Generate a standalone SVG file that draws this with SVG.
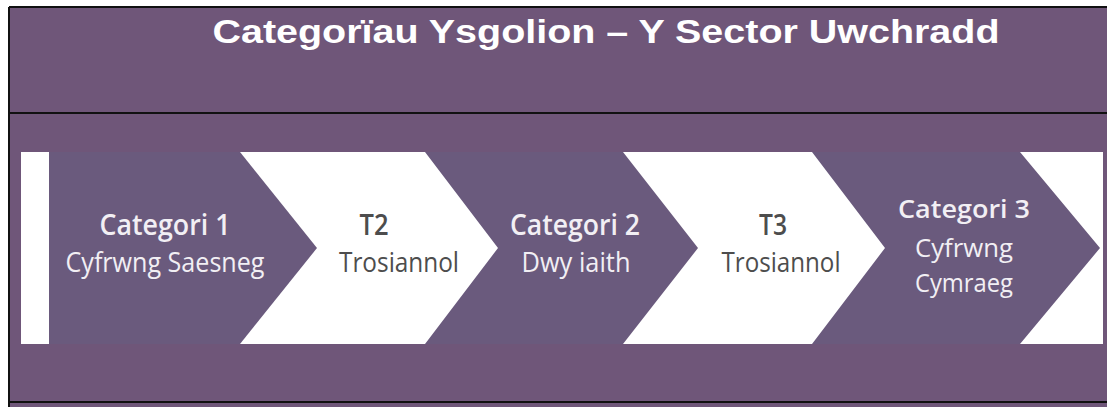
<svg xmlns="http://www.w3.org/2000/svg" width="1107" height="407" viewBox="0 0 1107 407">
<style>
.bg{fill:#6f5679}
.ln{stroke:#111;stroke-width:2;fill:none}
.chev{fill:#6a5a7d}
.wt{fill:#ffffff}
.title{font-family:"Liberation Sans",Arial,sans-serif;font-weight:bold;font-size:33px;fill:#ffffff}
.h{font-family:"Open Sans","Noto Sans",sans-serif;font-weight:600;font-size:28px;fill:#f2eff4;text-anchor:middle}
.s{font-family:"Open Sans","Noto Sans",sans-serif;font-size:27px;fill:#f2eff4;text-anchor:middle}
.c3{font-size:26px}
.dk{fill:#4d4d4d}
</style>
<rect x="0" y="0" width="1107" height="407" fill="#ffffff"/>
<rect class="bg" x="9" y="7" width="1098" height="400"/>
<g id="frame">
<line class="ln" x1="9" y1="7" x2="1107" y2="7"/>
<line class="ln" x1="9" y1="7" x2="9" y2="407"/>
<line class="ln" x1="9" y1="113" x2="1107" y2="113"/>
<line class="ln" x1="9" y1="402" x2="1107" y2="402"/>
</g>
<g id="title">
<text class="title" x="606" y="43" text-anchor="middle" textLength="787" lengthAdjust="spacingAndGlyphs">Categorïau Ysgolion – Y Sector Uwchradd</text>
</g>
<rect class="wt" x="21" y="152" width="1082" height="192"/>
<g id="cat1">
<polygon class="chev" points="49,152 240,152 317,248 240,344 49,344"/>
<text class="h" x="165" y="235" textLength="131" lengthAdjust="spacingAndGlyphs">Categori 1</text>
<text class="s" x="165" y="272" textLength="199" lengthAdjust="spacingAndGlyphs">Cyfrwng Saesneg</text>
</g>
<g id="t2">
<text class="h dk" x="374" y="235" textLength="29" lengthAdjust="spacingAndGlyphs">T2</text>
<text class="s dk" x="399" y="272" textLength="120" lengthAdjust="spacingAndGlyphs">Trosiannol</text>
</g>
<g id="cat2">
<polygon class="chev" points="425,152 623,152 698,248 623,344 425,344 498,248"/>
<text class="h" x="575" y="235" textLength="130" lengthAdjust="spacingAndGlyphs">Categori 2</text>
<text class="s" x="576" y="272" textLength="109" lengthAdjust="spacingAndGlyphs">Dwy iaith</text>
</g>
<g id="t3">
<text class="h dk" x="773" y="235" textLength="28" lengthAdjust="spacingAndGlyphs">T3</text>
<text class="s dk" x="781" y="272" textLength="119" lengthAdjust="spacingAndGlyphs">Trosiannol</text>
</g>
<g id="cat3">
<polygon class="chev" points="812,152 1020,152 1100,248 1020,344 812,344 885,248"/>
<text class="h c3" x="964" y="218" textLength="132" lengthAdjust="spacingAndGlyphs">Categori 3</text>
<text class="s c3" x="964" y="257" textLength="98" lengthAdjust="spacingAndGlyphs">Cyfrwng</text>
<text class="s c3" x="964" y="292" textLength="98" lengthAdjust="spacingAndGlyphs">Cymraeg</text>
</g>
<g id="connectors"></g>
</svg>
